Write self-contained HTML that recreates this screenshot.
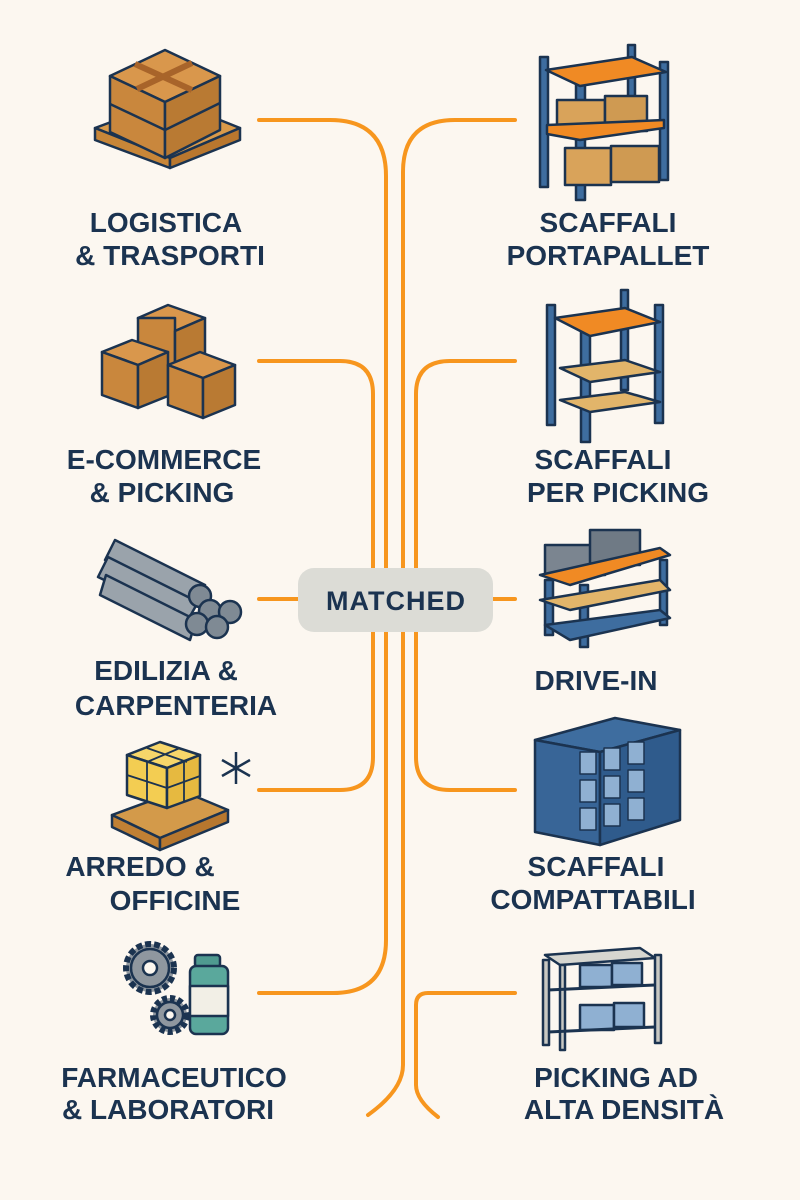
<!DOCTYPE html>
<html><head><meta charset="utf-8"><style>
html,body{margin:0;padding:0;background:#fcf7f0;}
svg{display:block}
text{font-family:"Liberation Sans",sans-serif;font-weight:bold;fill:#1b3350;font-size:28px;text-anchor:middle}
</style></head><body>
<svg width="800" height="1200" viewBox="0 0 800 1200" xmlns="http://www.w3.org/2000/svg">
<rect width="800" height="1200" fill="#fcf7f0"/>
<g fill="none" stroke="#f7961e" stroke-width="4" stroke-linecap="round">
<path d="M259 120 H330 Q386 120 386 176 V940 Q386 993 333 993 H259"/>
<path d="M259 361 H340 Q373 361 373 394 V757 Q373 790 340 790 H259"/>
<path d="M259 599 H298"/>
<path d="M515 120 H455 Q403 120 403 172 V1065 Q403 1090 368 1115"/>
<path d="M515 361 H450 Q416 361 416 394 V757 Q416 790 450 790 H515"/>
<path d="M515 993 H428 Q416 993 416 1005 V1085 Q416 1100 438 1117"/>
<path d="M493 599 H515"/>
</g>
<rect x="298" y="568" width="195" height="64" rx="16" fill="#dcdcd6"/>
<text x="396" y="610" style="font-size:27px;letter-spacing:1px">MATCHED</text>

<!-- labels left -->
<text x="166" y="232">LOGISTICA</text><text x="170" y="265">&amp; TRASPORTI</text>
<text x="164" y="469">E-COMMERCE</text><text x="162" y="502">&amp; PICKING</text>
<text x="166" y="680">EDILIZIA &amp;</text><text x="176" y="715">CARPENTERIA</text>
<text x="140" y="876">ARREDO &amp;</text><text x="175" y="910">OFFICINE</text>
<text x="174" y="1087">FARMACEUTICO</text><text x="168" y="1119">&amp; LABORATORI</text>
<!-- labels right -->
<text x="608" y="232">SCAFFALI</text><text x="608" y="265">PORTAPALLET</text>
<text x="603" y="469">SCAFFALI</text><text x="618" y="502">PER PICKING</text>
<text x="596" y="690">DRIVE-IN</text>
<text x="596" y="876">SCAFFALI</text><text x="593" y="909">COMPATTABILI</text>
<text x="616" y="1087">PICKING AD</text><text x="624" y="1119">ALTA DENSITÀ</text>

<g stroke="#1b3350" stroke-width="2.5" stroke-linejoin="round">
<!-- icon1 pallet box -->
<polygon points="95,128 170,100 240,128 170,158" fill="#d99a4a"/>
<polygon points="95,128 95,140 170,168 170,158" fill="#c88638"/>
<polygon points="170,158 240,128 240,140 170,168" fill="#b9772e"/>
<polygon points="110,76 165,50 220,76 165,102" fill="#d9974c"/>
<polygon points="110,76 165,102 165,158 110,132" fill="#c9873d"/>
<polygon points="165,102 220,76 220,130 165,158" fill="#b97a33"/>
<path d="M110 104 L165 130 L220 103" fill="none"/>
<path d="M135 64 L192 90 M192 63 L137 89" stroke="#a8642a" stroke-width="6"/>
<!-- icon2 boxes -->
<polygon points="138,318 168,305 205,318 175,331" fill="#d9974c"/>
<rect x="138" y="318" width="37" height="50" fill="#c9873d"/><polygon points="175,331 205,318 205,360 175,368" fill="#b97a33"/>
<polygon points="102,352 132,340 168,352 138,365" fill="#d9974c"/>
<polygon points="102,352 138,365 138,408 102,395" fill="#c9873d"/><polygon points="138,365 168,352 168,396 138,408" fill="#b97a33"/>
<polygon points="168,365 200,352 235,365 203,378" fill="#d9974c"/>
<polygon points="168,365 203,378 203,418 168,405" fill="#c9873d"/><polygon points="203,378 235,365 235,405 203,418" fill="#b97a33"/>
<!-- icon3 pipes -->
<g fill="#9aa3ab">
<path d="M115 540 L205 585 L195 605 L105 560 Z"/><path d="M108 557 L198 602 L188 620 L98 577 Z"/>
<path d="M106 575 L196 620 L190 640 L100 595 Z"/>
</g>
<g fill="#7f8a94"><circle cx="200" cy="596" r="11"/><circle cx="210" cy="611" r="11"/><circle cx="230" cy="612" r="11"/><circle cx="197" cy="624" r="11"/><circle cx="217" cy="627" r="11"/></g>
<!-- icon4 yellow cubes -->
<polygon points="112,815 180,790 228,810 160,838" fill="#d39a4a"/>
<polygon points="112,815 160,838 160,850 112,827" fill="#c08034"/><polygon points="160,838 228,810 228,822 160,850" fill="#b7772e"/>
<polygon points="127,755 160,742 200,755 167,768" fill="#f6d66a"/>
<polygon points="127,755 167,768 167,808 127,795" fill="#f3cd52"/><polygon points="167,768 200,755 200,796 167,808" fill="#e6b940"/>
<path d="M147 748 L187 762 M180 748 L147 762 M127 775 L167 788 L200 776 M147 762 V802 M184 762 V802" fill="none" stroke-width="1.8"/>
<g stroke-width="2.5"><path d="M236 752 V784 M222 760 L250 776 M222 776 L250 760"/></g>
<!-- icon5 gears + bottle -->
<circle cx="150" cy="968" r="24" fill="#8f979f" stroke-dasharray="6 3" stroke-width="6"/><circle cx="150" cy="968" r="19" fill="#8f979f"/><circle cx="150" cy="968" r="7" fill="#fcf7f0"/>
<circle cx="170" cy="1015" r="17" fill="#8f979f" stroke-dasharray="5 3" stroke-width="6"/><circle cx="170" cy="1015" r="13" fill="#8f979f"/><circle cx="170" cy="1015" r="5" fill="#fcf7f0"/>
<rect x="195" y="955" width="25" height="12" rx="3" fill="#4f9a90"/>
<rect x="190" y="966" width="38" height="68" rx="6" fill="#5aa89c"/>
<rect x="190" y="986" width="38" height="30" fill="#f2efe6"/>

<!-- right icon1 rack -->
<g fill="#3e6d9f"><rect x="540" y="57" width="8" height="130"/><rect x="576" y="72" width="9" height="128"/><rect x="628" y="45" width="7" height="80"/><rect x="660" y="62" width="8" height="118"/></g>
<polygon points="546,70 632,57 666,72 580,86" fill="#f08a24"/>
<rect x="557" y="100" width="48" height="35" fill="#d9a35a"/><rect x="605" y="96" width="42" height="35" fill="#cf9a52"/>
<polygon points="547,125 664,120 664,128 580,140 547,134" fill="#f08a24"/>
<rect x="565" y="148" width="46" height="37" fill="#d9a35a"/><rect x="611" y="146" width="48" height="36" fill="#cf9a52"/>
<!-- right icon2 -->
<g fill="#3e6d9f"><rect x="547" y="305" width="8" height="120"/><rect x="581" y="322" width="9" height="120"/><rect x="621" y="290" width="7" height="100"/><rect x="655" y="305" width="8" height="118"/></g>
<polygon points="555,318 625,308 660,322 590,336" fill="#f08a24"/>
<polygon points="560,368 625,360 660,372 590,382" fill="#e2b56a"/>
<polygon points="560,400 625,392 660,402 590,412" fill="#e2b56a"/>
<!-- right icon3 drive-in -->
<rect x="545" y="545" width="60" height="30" fill="#7b8590"/><rect x="590" y="530" width="50" height="35" fill="#6f7a85"/>
<g fill="#3e6d9f"><rect x="545" y="580" width="8" height="55"/><rect x="580" y="585" width="8" height="62"/><rect x="660" y="560" width="7" height="65"/></g>
<polygon points="540,575 660,548 670,555 570,585" fill="#f08a24"/>
<polygon points="540,600 660,580 670,590 570,610" fill="#e2b56a"/>
<polygon points="545,625 660,610 670,618 570,640" fill="#3e6d9f"/>
<!-- right icon4 compact -->
<polygon points="535,740 615,718 680,730 600,752" fill="#3e6d9f"/>
<polygon points="535,740 600,752 600,845 535,832" fill="#386597"/>
<polygon points="600,752 680,730 680,820 600,845" fill="#2f5b8c"/>
<g fill="#8fb0d2" stroke-width="1.5"><rect x="580" y="752" width="16" height="22"/><rect x="580" y="780" width="16" height="22"/><rect x="580" y="808" width="16" height="22"/><rect x="604" y="748" width="16" height="22"/><rect x="604" y="776" width="16" height="22"/><rect x="604" y="804" width="16" height="22"/><rect x="628" y="742" width="16" height="22"/><rect x="628" y="770" width="16" height="22"/><rect x="628" y="798" width="16" height="22"/></g>
<!-- right icon5 grey shelf -->
<polygon points="545,955 640,948 655,958 560,965" fill="#d6d6d0"/>
<g fill="#c8c8c2"><rect x="543" y="960" width="6" height="85"/><rect x="655" y="955" width="6" height="88"/><rect x="560" y="965" width="5" height="85"/></g>
<rect x="580" y="965" width="32" height="22" fill="#8fb0d2"/><rect x="612" y="963" width="30" height="22" fill="#8fb0d2"/>
<rect x="580" y="1005" width="34" height="25" fill="#8fb0d2"/><rect x="614" y="1003" width="30" height="24" fill="#8fb0d2"/>
<path d="M548 990 L655 985 M548 1032 L655 1027" fill="none" stroke-width="3"/>
</g>
</svg>
</body></html>
